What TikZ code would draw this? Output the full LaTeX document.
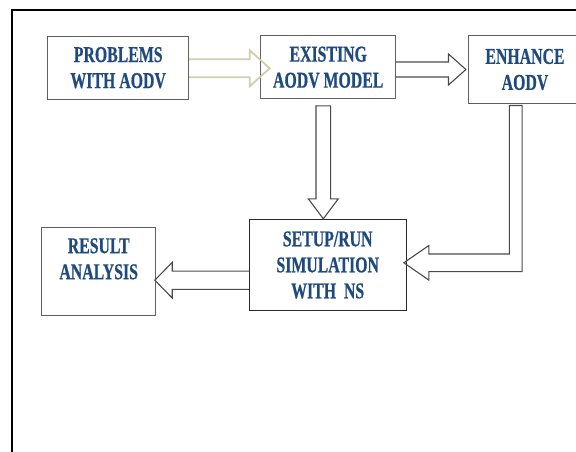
\documentclass[tikz,border=0pt]{standalone}
\usepackage{fontspec}
\usetikzlibrary{calc}
\newfontfamily\condserif[FakeStretch=0.7,BoldFeatures={FakeStretch=0.7,FakeBold=0.6}]{Liberation Serif}
\newcommand\lblfont{\condserif\bfseries\fontsize{22.6}{26}\selectfont}
\definecolor{txtblue}{HTML}{1F4A80}
\definecolor{boxgray}{HTML}{606060}
\definecolor{boxdark}{HTML}{2A2A2A}
\definecolor{arrgray}{HTML}{4A4A4A}
\definecolor{arrbeige}{HTML}{D2CCAE}
\tikzset{
  box/.style={draw=boxgray, line width=1pt, rectangle, inner sep=0pt, align=center, font=\lblfont, text=txtblue},
  hollow/.style={draw=arrgray, line width=1.1pt, line join=miter},
  hollowbeige/.style={draw=arrbeige, line width=1.8pt, line join=miter},
}
\begin{document}
\begin{tikzpicture}[x=1pt,y=-1pt]
\useasboundingbox (0,0) rectangle (576,452);
\clip (0,0) rectangle (576,452);
% outer frame
\draw[line width=2pt, black] (12,470) -- (12,10) -- (590,10);
% boxes
\node[box, minimum width=141pt, minimum height=63.3pt] (b1) at (118.2,67.7) {PROBLEMS\\WITH AODV};
\node[box, minimum width=135pt, minimum height=63.3pt] (b2) at (328.2,67.3) {EXISTING\\AODV MODEL};
\node[box, minimum width=114pt, minimum height=67.6pt] (b3) at (525,69.5) {ENHANCE\\AODV};
\node[box, draw=boxdark, minimum width=156.7pt, minimum height=91.4pt] (b4) at (327.7,265) {SETUP/RUN\\SIMULATION\\WITH\ \ NS};
\node[box, minimum width=114pt, minimum height=88pt] (b5) at (98.7,271.7) {RESULT\\ANALYSIS\\\mbox{}};
% arrow 1 (beige)
\coordinate (a1s) at ($(b1.east)+(0,0.6)$);
\coordinate (a1t) at ($(a1s -| b2.west)+(9.5,0)$);
\draw[hollowbeige] ($(a1s)+(0,-9)$) -- ($(a1t)+(-20,-9)$) -- ($(a1t)+(-20,-18)$) -- (a1t)
  -- ($(a1t)+(-20,18)$) -- ($(a1t)+(-20,9)$) -- ($(a1s)+(0,9)$);
% arrow 2
\coordinate (a2s) at (b3.west -| b2.east);
\coordinate (a2t) at ($(b3.west)+(-1.6,0)$);
\draw[hollow] ($(a2s)+(0,-7.5)$) -- ($(a2t)+(-17.4,-7.5)$) -- ($(a2t)+(-17.4,-15.5)$) -- (a2t)
  -- ($(a2t)+(-17.4,15.5)$) -- ($(a2t)+(-17.4,7.5)$) -- ($(a2s)+(0,7.5)$);
% arrow 3 (down)
\coordinate (a3s) at ($(b2.south)+(-4.9,6.4)$);
\coordinate (a3t) at (a3s |- b4.north);
\draw[hollow] ($(a3s)+(-7.3,0)$) -- ($(a3t)+(-7.3,-20)$) -- ($(a3t)+(-15,-20)$) -- (a3t)
  -- ($(a3t)+(15,-20)$) -- ($(a3t)+(7.3,-20)$) -- ($(a3s)+(7.3,0)$) -- cycle;
% arrow 4 (bent)
\coordinate (a4s) at ($(b3.south)+(-9.3,1.7)$);
\coordinate (a4t) at ($(b4.east)+(-2.7,-2.2)$);
\draw[hollow] ($(a4s)+(-6.35,0)$) -- ($(a4s |- a4t)+(-6.35,-8.85)$) -- ($(a4t)+(25,-8.85)$)
  -- ($(a4t)+(25,-17.3)$) -- (a4t) -- ($(a4t)+(25,17.3)$) -- ($(a4t)+(25,8.85)$)
  -- ($(a4s |- a4t)+(6.35,8.85)$) -- ($(a4s)+(6.35,0)$) -- cycle;
% arrow 5 (left)
\coordinate (a5s) at ($(b4.west)+(0,15.2)$);
\coordinate (a5t) at ($(a5s -| b5.east)+(-1.4,0)$);
\draw[hollow] ($(a5s)+(0,-9.15)$) -- ($(a5t)+(17.4,-9.15)$) -- ($(a5t)+(17.4,-17.8)$) -- (a5t)
  -- ($(a5t)+(17.4,17.8)$) -- ($(a5t)+(17.4,9.15)$) -- ($(a5s)+(0,9.15)$);
\end{tikzpicture}
\end{document}
